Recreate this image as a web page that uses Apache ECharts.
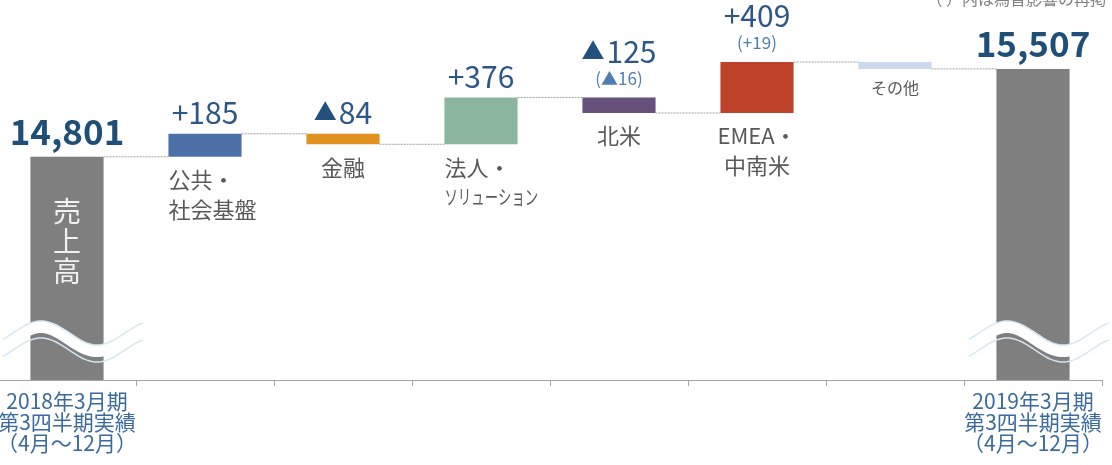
<!DOCTYPE html>
<html><head><meta charset="utf-8">
<script src="https://cdn.jsdelivr.net/npm/echarts@6/dist/echarts.min.js"></script>
<style>html,body{margin:0;padding:0;background:#fff}#c{width:1112px;height:465px}</style>
</head><body><div id="c"></div>
<script>
// ---- data ----
const categories = ['売上高2018', '公共・社会基盤', '金融', '法人・ソリューション', '北米', 'EMEA・中南米', 'その他', '売上高2019'];
const salesStart = 14801;
const salesEnd = 15507;
const segmentChanges = [185, -84, 376, -125, 409, -55];
const fxEffect = [null, null, null, -16, 19, null];
const segmentLabels = ['公共・\n社会基盤', '金融', '法人・\nソリューション', '北米', 'EMEA・\n中南米', 'その他'];
const periodLabels = ['2018年3月期\n第3四半期実績\n（4月～12月）', '2019年3月期\n第3四半期実績\n（4月～12月）'];
const salesLabel = '売上高';
const noteText = '（ ）内は為替影響の再掲';

// ---- styles ----
const FONT = '"Noto Sans CJK JP", "Noto Sans", sans-serif';
const barColors = ['#7f7f7f', '#4d70a8', '#e0921f', '#8bb59e', '#67507a', '#bf432a', '#ccd8ee', '#7f7f7f'];
const BAR_RATIO = 0.53;
const leftAligned = [0, 2]; // segment indices whose names are left aligned

// ---- derived waterfall arrays ----
const n = categories.length;
const base = [0], visible = [salesStart], tops = [salesStart], bottoms = [null], levels = [salesStart];
let cum = salesStart;
segmentChanges.forEach(c => {
  const next = cum + c;
  base.push(Math.min(cum, next));
  visible.push(Math.abs(c));
  tops.push(Math.max(cum, next));
  bottoms.push(Math.min(cum, next));
  cum = next;
  levels.push(cum);
});
base.push(0); visible.push(salesEnd); tops.push(salesEnd); bottoms.push(null); levels.push(salesEnd);

function fmtRich(v) { return (v < 0 ? '{t|▲}' : '+') + Math.abs(v).toLocaleString('en-US'); }
function fmtPlain(v) { return (v < 0 ? '▲' : '+') + Math.abs(v).toLocaleString('en-US'); }
function txt(x, y, text, st, extra) {
  return Object.assign({ type: 'text', x: x, y: y, style: Object.assign({
    text: text, fontFamily: FONT, align: 'center', verticalAlign: 'middle'
  }, st) }, extra || {});
}
const valueStyle = { fontSize: 30, fill: '#2c5787', rich: { t: { fontSize: 23, fill: '#24507f', fontFamily: FONT, padding: [0, 2, 3, 0] } } };

function renderItem(params, api) {
  const i = api.value(0);
  const p = api.coord([i, tops[i]]);
  const cx = p[0], ty = p[1];
  const bw = api.size([1, 0])[0] * BAR_RATIO;
  const cs = params.coordSys;
  const children = [];
  const isTotal = (i === 0 || i === n - 1);
  if (isTotal) {
    children.push(txt(cx, ty - 25, tops[i].toLocaleString('en-US'), { fontSize: 35, fontWeight: 'bold', fill: '#1f4e79' }));
    // wave break
    const yc = cs.y + cs.height - 47;
    const peakX = cx - 26, P = 112, A = 12;
    const up = [], mid = [], low = [];
    for (let x = cx - 64; x <= cx + 76; x += 2) {
      const y = yc - A * Math.cos(2 * Math.PI * (x - peakX) / P);
      up.push([x, y]); mid.push([x, y + 6]); low.push([x, y + 17]);
    }
    children.push({ type: 'polyline', shape: { points: mid }, style: { stroke: '#ffffff', lineWidth: 12, fill: null } });
    children.push({ type: 'polyline', shape: { points: up }, style: { stroke: '#d3e7f3', lineWidth: 1.5, fill: null } });
    children.push({ type: 'polyline', shape: { points: low }, style: { stroke: '#d3e7f3', lineWidth: 1.5, fill: null } });
    if (i === 0) {
      children.push(txt(cx, ty + 40, salesLabel.split('').join('\n'), { fontSize: 28, lineHeight: 30, fill: '#f2f2f2', verticalAlign: 'top' }));
    }
  } else {
    const k = i - 1;
    const fx = fxEffect[k];
    if (fx != null) {
      children.push(txt(cx, ty - 46, fmtRich(segmentChanges[k]), valueStyle));
      children.push(txt(cx, ty - 19, '(' + fmtPlain(fx) + ')', { fontSize: 17, fill: '#4f7db3' }));
    } else if (k !== segmentChanges.length - 1) {
      children.push(txt(cx, ty - 21, fmtRich(segmentChanges[k]), valueStyle));
    }
    const by = api.coord([i, bottoms[i]])[1];
    const lines = segmentLabels[k].split('\n');
    if (k === segmentChanges.length - 1) {
      children.push(txt(cx, by + 19, lines[0], { fontSize: 16, fill: '#595959' }));
    } else {
      const left = leftAligned.indexOf(k) >= 0;
      lines.forEach((ln, j) => {
        const narrow = ln.length > 5;
        const x = left ? cx - bw / 2 : cx;
        children.push(txt(x, by + 23 + j * 30, ln, {
          fontSize: narrow ? 20 : 22, fill: '#595959', align: left ? 'left' : 'center'
        }, narrow ? { scaleX: 0.67, originX: 0, originY: 0 } : null));
      });
    }
  }
  if (i < n - 1) {
    const y = api.coord([i, levels[i]])[1];
    const x2 = api.coord([i + 1, levels[i]])[0] - bw / 2;
    children.push({ type: 'line', shape: { x1: cx + bw / 2, y1: y, x2: x2, y2: y },
      style: { stroke: '#a0a0a0', lineWidth: 1, lineDash: [2, 1] } });
  }
  return { type: 'group', children: children };
}

const chart = echarts.init(document.getElementById('c'));
chart.setOption({
  animation: false,
  backgroundColor: '#ffffff',
  grid: { left: -2, right: 10, top: 0, bottom: 85, containLabel: false, outerBoundsMode: 'none' },
  xAxis: {
    type: 'category', data: categories,
    axisLine: { show: true, lineStyle: { color: '#a6a6a6', width: 1 } },
    axisTick: { show: true, interval: 0, length: 6, lineStyle: { color: '#a6a6a6', width: 1 } },
    axisLabel: {
      interval: 0, margin: 11, color: '#3a6a9e', fontSize: 21, lineHeight: 21, fontFamily: FONT,
      formatter: (v, idx) => idx === 0 ? periodLabels[0] : (idx === n - 1 ? periodLabels[1] : '')
    }
  },
  yAxis: { type: 'value', min: 13010, max: 16060, show: false, splitLine: { show: false } },
  graphic: [{ type: 'text', right: 6, top: -9, style: { text: noteText, fontSize: 16, fill: '#7f7f7f', fontFamily: FONT } }],
  series: [
    { type: 'bar', stack: 'w', data: base, barWidth: (BAR_RATIO * 100) + '%', itemStyle: { color: 'transparent' }, silent: true },
    { type: 'bar', stack: 'w', data: visible.map((v, i) => ({ value: v, itemStyle: { color: barColors[i] } })), barWidth: (BAR_RATIO * 100) + '%' },
    { type: 'custom', z: 5, data: categories.map((c, i) => [i, tops[i]]), encode: { x: 0, y: 1 }, renderItem: renderItem }
  ]
});
</script></body></html>
